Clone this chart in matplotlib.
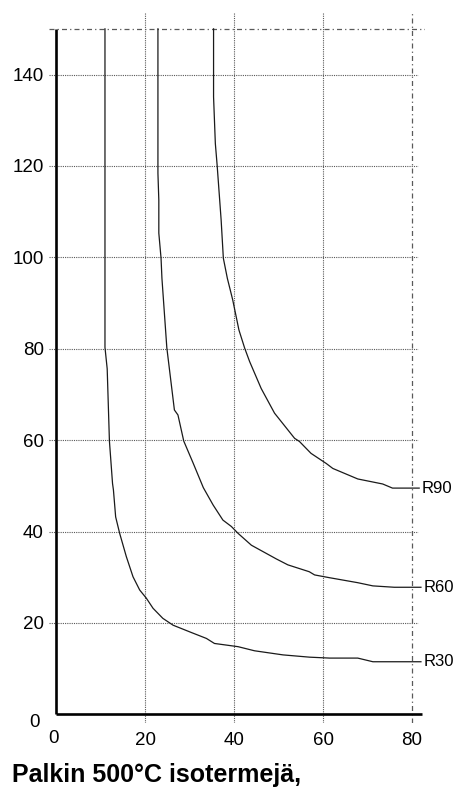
import matplotlib.pyplot as plt
import matplotlib.transforms as mtransforms

plt.rcParams['font.family'] = ['Liberation Sans', 'DejaVu Sans']

# isotherm curves (x, y)
r30_x = [11.0, 11.0, 11.5, 12.0, 12.7, 12.9, 13.4, 14.3, 15.8, 17.3, 18.8, 20.3, 21.8, 24.0,
         26.3, 30.4, 33.8, 35.6, 40.9, 44.6, 51.0, 57.0, 61.5, 67.8, 71.2, 82.0]
r30_y = [150, 80.3, 75.6, 59.8, 50.5, 49.1, 43.2, 39.6, 34.5, 30.1, 27.2, 25.4, 23.2, 21.0,
         19.5, 17.9, 16.6, 15.5, 14.8, 13.9, 13.0, 12.5, 12.3, 12.3, 11.5, 11.5]

r60_x = [22.9, 22.9, 23.1, 23.1, 23.6, 23.8, 24.9, 26.6, 27.4, 28.7, 30.8, 33.1, 35.3, 37.5,
         39.4, 40.9, 43.9, 49.5, 52.1, 56.9, 58.1, 61.4, 67.8, 71.2, 76.0, 82.0]
r60_y = [150, 118.4, 112.5, 105.3, 99.8, 95.4, 80.2, 66.6, 65.5, 59.8, 55.0, 49.6, 45.8, 42.5,
         41.1, 39.6, 37.0, 34.0, 32.7, 31.2, 30.5, 29.9, 28.8, 28.1, 27.8, 27.8]

r90_x = [35.4, 35.4, 35.8, 36.2, 37.1, 37.6, 38.5, 39.7, 41.1, 42.4, 43.5, 46.1, 49.1, 53.6,
         54.7, 57.3, 60.7, 62.2, 67.8, 73.4, 75.6, 81.6]
r90_y = [150, 135.1, 124.9, 120.2, 108.2, 99.8, 95.4, 90.7, 84.1, 80.1, 77.2, 71.3, 65.9, 60.4,
         59.7, 57.1, 54.9, 53.8, 51.5, 50.4, 49.5, 49.5]

curve_names = ['R30', 'R60', 'R90']
x_ticks = [0, 20, 40, 60, 80]
y_ticks = [0, 20, 40, 60, 80, 100, 120, 140]
y_top = 150
title = 'Palkin 500°C isotermejä,'

fig = plt.figure(figsize=(4.63, 7.89), dpi=100)
ax = fig.add_axes([0.1056, 0.0831, 0.8132, 0.9006])
ax.set_xlim(-1.6, 83)
ax.set_ylim(-2, 153.5)
for s in ax.spines.values():
    s.set_visible(False)

grid_kw = dict(color='0.35', lw=0.8, linestyle=(0, (1, 1)), zorder=1)
dashdot_kw = dict(color='0.35', lw=0.9, linestyle=(0, (4, 2.5, 1, 2.5)), zorder=1)

# horizontal grid
ax.hlines(y_ticks[1:], -1.6, 81.4, **grid_kw)
ax.hlines(y_top, -1.6, 83, **dashdot_kw)
# vertical grid
ax.vlines(x_ticks[1:-1], -2, 153.5, **grid_kw)
ax.vlines(x_ticks[-1], -2, 153.5, **dashdot_kw)

# thick axes
ax.plot([0, 0], [0, y_top], color='black', lw=1.9, solid_capstyle='butt', zorder=3)
ax.plot([0, 82.2], [0, 0], color='black', lw=1.9, solid_capstyle='butt', zorder=3)

for xs, ys, name in [(r30_x, r30_y, curve_names[0]),
                     (r60_x, r60_y, curve_names[1]),
                     (r90_x, r90_y, curve_names[2])]:
    ax.plot(xs, ys, color='#1a1a1a', lw=0.9, zorder=2)
    ax.text(xs[-1] + 0.5, ys[-1], name, fontsize=12, ha='left', va='center',
            clip_on=False)

ax.set_xticks(x_ticks)
ax.set_yticks(y_ticks)
ax.tick_params(length=0, labelsize=13.5)
ax.tick_params(axis='x', pad=6.2)
ax.tick_params(axis='y', pad=3.6)

# nudge the two origin labels like in the picture
xl0 = ax.get_xticklabels()[0]
xl0.set_transform(xl0.get_transform() + mtransforms.ScaledTranslation(-0.03, 0.025, fig.dpi_scale_trans))
yl0 = ax.get_yticklabels()[0]
yl0.set_transform(yl0.get_transform() + mtransforms.ScaledTranslation(-0.04, -0.06, fig.dpi_scale_trans))

fig.text(12 / 463, 7 / 789, title, fontsize=18, fontweight='bold', ha='left', va='baseline')

fig.savefig('out.png', dpi=100)
